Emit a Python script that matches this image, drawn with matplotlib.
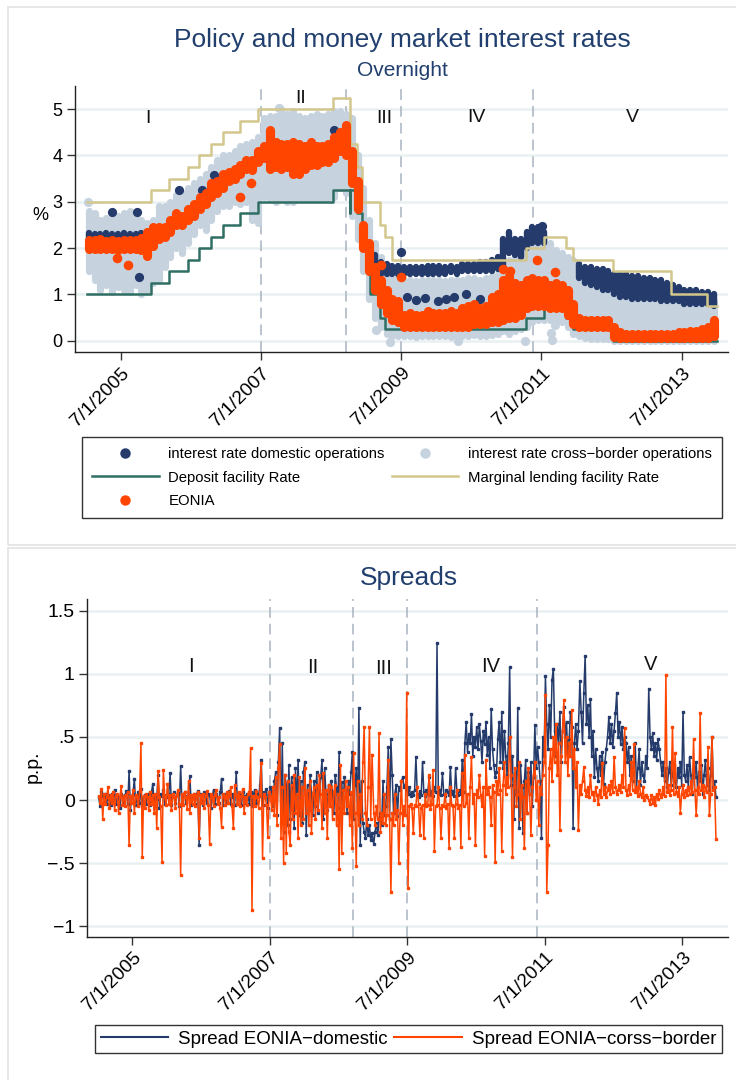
import numpy as np
import pandas as pd
import matplotlib
matplotlib.use('Agg')
import matplotlib.pyplot as plt
import matplotlib.dates as mdates
from matplotlib.lines import Line2D
from matplotlib.patches import Rectangle

plt.rcParams['font.family'] = ['Liberation Sans', 'DejaVu Sans']

NAVY = '#243b6b'
TITLE = '#213f6e'
LIGHT = '#c6d3df'
ORANGE = '#ff4500'
TEAL = '#2f6e63'
KHAKI = '#d3c78d'
GRID = '#e9f0f2'
DASH = '#a8b4c1'

# ---------------- policy rates (step series) ----------------
dep_dates = ['2005-01-03', '2005-12-06', '2006-03-08', '2006-06-15', '2006-08-09', '2006-10-11',
             '2006-12-13', '2007-03-14', '2007-06-13', '2008-07-09', '2008-10-08', '2008-10-09',
             '2008-11-12', '2008-12-10', '2009-01-21', '2009-03-11', '2009-04-08', '2011-04-13',
             '2011-07-13', '2011-11-09', '2011-12-14', '2012-07-11', '2013-12-31']
dep_rate = [1.0, 1.25, 1.5, 1.75, 2.0, 2.25, 2.5, 2.75, 3.0, 3.25, 2.75, 3.25,
            2.75, 2.0, 1.0, 0.5, 0.25, 0.5, 0.75, 0.5, 0.25, 0.0, 0.0]
mlf_dates = ['2005-01-03', '2005-12-06', '2006-03-08', '2006-06-15', '2006-08-09', '2006-10-11',
             '2006-12-13', '2007-03-14', '2007-06-13', '2008-07-09', '2008-10-08', '2008-10-09',
             '2008-11-12', '2008-12-10', '2009-03-11', '2009-04-08', '2009-05-13', '2011-04-13',
             '2011-07-13', '2011-11-09', '2011-12-14', '2012-07-11', '2013-05-08', '2013-11-13',
             '2013-12-31']
mlf_rate = [3.0, 3.25, 3.5, 3.75, 4.0, 4.25, 4.5, 4.75, 5.0, 5.25, 4.75, 4.25,
            3.75, 3.0, 2.5, 2.25, 1.75, 2.0, 2.25, 2.0, 1.75, 1.5, 1.0, 0.75, 0.75]

# ---------------- monthly ranges of the overnight rate clouds (Jan 2005 - Dec 2013) ----------------
eonia_low = [1.97, 1.98, 1.97, 1.98, 1.97, 1.96, 1.98, 1.97, 1.97, 1.95, 1.82, 2.05,
             2.2, 2.25, 2.35, 2.5, 2.5, 2.6, 2.7, 2.85, 2.95, 3.1, 3.2, 3.3,
             3.45, 3.5, 3.6, 3.7, 3.68, 3.85, 3.95, 3.7, 3.75, 3.7, 3.75, 3.6,
             3.6, 3.7, 3.8, 3.8, 3.85, 3.85, 3.95, 4.1, 4.0, 3.4, 2.85, 2.0,
             1.5, 1.1, 0.8, 0.6, 0.45, 0.4, 0.3, 0.3, 0.3, 0.3, 0.3, 0.3,
             0.3, 0.3, 0.3, 0.3, 0.3, 0.3, 0.35, 0.35, 0.35, 0.4, 0.4, 0.45,
             0.5, 0.5, 0.55, 0.7, 0.75, 0.75, 0.75, 0.7, 0.7, 0.7, 0.55, 0.35,
             0.3, 0.3, 0.3, 0.3, 0.3, 0.3, 0.08, 0.05, 0.05, 0.05, 0.05, 0.05,
             0.05, 0.05, 0.05, 0.05, 0.05, 0.05, 0.05, 0.05, 0.05, 0.05, 0.06, 0.1]
eonia_high = [2.18, 2.17, 2.19, 2.16, 2.18, 2.15, 2.17, 2.18, 2.18, 2.22, 2.35, 2.45,
              2.45, 2.45, 2.6, 2.75, 2.7, 2.85, 2.95, 3.1, 3.2, 3.4, 3.45, 3.6,
              3.65, 3.7, 3.8, 3.9, 3.9, 4.1, 4.2, 4.55, 4.3, 4.25, 4.25, 4.3,
              4.25, 4.2, 4.3, 4.2, 4.2, 4.25, 4.4, 4.5, 4.65, 4.1, 3.45, 2.5,
              2.1, 1.6, 1.3, 1.1, 0.9, 0.85, 0.55, 0.6, 0.55, 0.55, 0.65, 0.6,
              0.6, 0.6, 0.65, 0.6, 0.7, 0.75, 0.8, 0.7, 0.75, 0.95, 1.0, 1.3,
              1.4, 1.25, 1.2, 1.3, 1.35, 1.3, 1.3, 1.2, 1.25, 1.2, 1.1, 0.8,
              0.5, 0.45, 0.45, 0.45, 0.45, 0.45, 0.3, 0.18, 0.15, 0.15, 0.15, 0.15,
              0.15, 0.15, 0.15, 0.15, 0.15, 0.18, 0.18, 0.2, 0.22, 0.25, 0.3, 0.45]
cross_low = [1.5, 1.3, 1.1, 1.2, 1.05, 1.15, 1.1, 1.05, 1.2, 1.0, 1.1, 1.25,
             1.3, 1.6, 1.8, 2.0, 1.9, 2.1, 2.3, 2.5, 2.4, 2.6, 2.8, 2.9,
             2.9, 3.0, 2.95, 3.0, 2.6, 2.55, 3.1, 3.05, 3.0, 3.05, 3.0, 3.0,
             3.05, 3.05, 3.05, 3.05, 3.05, 3.05, 3.1, 3.3, 3.2, 2.7, 2.2, 1.5,
             0.9, 0.5, 0.3, 0.15, 0.1, 0.1, 0.1, 0.1, 0.08, 0.1, 0.1, 0.1,
             0.1, 0.1, 0.08, 0.1, 0.1, 0.1, 0.12, 0.1, 0.1, 0.12, 0.15, 0.2,
             0.15, 0.2, 0.25, 0.3, 0.4, 0.45, 0.45, 0.45, 0.45, 0.4, 0.3, 0.15,
             0.1, 0.05, 0.03, 0.03, 0.03, 0.03, 0.0, 0.0, 0.0, 0.0, 0.0, 0.0,
             0.0, 0.0, 0.0, 0.0, 0.0, 0.0, 0.0, 0.0, 0.0, 0.0, 0.0, 0.0]
cross_high = [2.8, 2.75, 2.6, 2.65, 2.65, 2.7, 2.75, 2.8, 2.7, 2.6, 2.55, 2.6,
              2.9, 2.9, 3.0, 3.15, 3.2, 3.3, 3.4, 3.5, 3.6, 3.75, 3.9, 4.0,
              4.0, 4.1, 4.2, 4.25, 4.3, 4.4, 4.8, 4.85, 4.85, 5.0, 4.9, 4.95,
              4.85, 4.8, 4.85, 4.9, 4.85, 4.9, 4.95, 4.95, 4.9, 4.8, 4.0, 3.3,
              2.6, 2.1, 1.8, 1.6, 1.4, 1.35, 1.3, 1.3, 1.28, 1.3, 1.3, 1.32,
              1.3, 1.28, 1.3, 1.32, 1.3, 1.35, 1.35, 1.3, 1.35, 1.4, 1.45, 1.6,
              1.75, 1.8, 1.75, 2.0, 2.15, 2.25, 2.25, 2.1, 1.95, 1.9, 1.8, 1.75,
              1.6, 1.45, 1.35, 1.3, 1.3, 1.3, 1.25, 1.2, 1.15, 1.15, 1.2, 1.2,
              1.15, 1.1, 1.05, 1.0, 0.95, 0.95, 0.95, 0.9, 0.9, 0.9, 0.95, 0.85]
dom_low = [2.12, 2.12, 2.12, 2.12, 2.12, 2.12, 2.12, 2.12, 2.12, 2.12, 2.12, 2.25,
           2.25, 2.3, 2.4, 2.55, 2.55, 2.65, 2.75, 2.9, 3.0, 3.15, 3.25, 3.35,
           3.5, 3.55, 3.65, 3.75, 3.73, 3.9, 4.0, 3.8, 3.8, 3.8, 3.8, 3.7,
           3.7, 3.75, 3.85, 3.85, 3.9, 3.9, 4.0, 4.15, 4.05, 3.5, 2.9, 2.05,
           1.55, 1.45, 1.45, 1.45, 1.45, 1.45, 1.45, 1.45, 1.45, 1.45, 1.45, 1.45,
           1.45, 1.45, 1.48, 1.45, 1.5, 1.5, 1.5, 1.5, 1.5, 1.5, 1.55, 1.6,
           1.9, 1.85, 1.8, 2.0, 2.1, 2.1, 2.1, 0.8, 0.8, 0.8, 0.65, 0.45,
           1.35, 1.25, 1.2, 1.15, 1.1, 1.1, 1.0, 0.95, 0.95, 0.9, 0.9, 0.9,
           0.9, 0.9, 0.85, 0.85, 0.85, 0.85, 0.8, 0.8, 0.8, 0.8, 0.8, 0.75]
dom_high = [2.32, 2.3, 2.3, 2.32, 2.3, 2.3, 2.33, 2.3, 2.3, 2.32, 2.35, 2.45,
            2.4, 2.4, 2.55, 2.7, 2.65, 2.8, 2.9, 3.05, 3.15, 3.35, 3.4, 3.55,
            3.6, 3.65, 3.75, 3.85, 3.85, 4.05, 4.15, 4.45, 4.25, 4.2, 4.2, 4.25,
            4.2, 4.15, 4.25, 4.15, 4.15, 4.2, 4.35, 4.45, 4.6, 4.05, 3.4, 2.45,
            2.05, 1.85, 1.7, 1.65, 1.62, 1.62, 1.6, 1.6, 1.6, 1.6, 1.62, 1.62,
            1.62, 1.6, 1.62, 1.6, 1.65, 1.65, 1.65, 1.7, 1.7, 1.75, 1.8, 2.2,
            2.35, 2.2, 2.2, 2.35, 2.45, 2.45, 2.35, 1.1, 1.1, 1.1, 1.0, 0.7,
            1.65, 1.6, 1.6, 1.55, 1.55, 1.5, 1.45, 1.45, 1.45, 1.4, 1.4, 1.35,
            1.35, 1.3, 1.3, 1.25, 1.2, 1.15, 1.1, 1.1, 1.1, 1.05, 1.05, 1.0]

# isolated observations outside the dense bands
eonia_out_dates = ['2005-06-10', '2005-08-08', '2007-03-15', '2007-05-12', '2009-03-15',
                   '2009-07-01', '2011-06-10', '2011-09-10', '2011-01-20', '2010-12-15']
eonia_out_vals = [1.78, 1.63, 3.1, 3.4, 1.63, 1.38, 1.74, 1.48, 1.5, 1.55]
dom_out_dates = ['2005-05-15', '2005-09-20', '2005-10-01', '2006-05-01', '2006-08-25',
                 '2006-10-28', '2008-07-15', '2009-07-01', '2009-08-01', '2009-09-15',
                 '2009-11-01', '2010-01-10', '2010-02-20', '2010-04-01', '2010-06-01',
                 '2010-08-15', '2011-07-05']
dom_out_vals = [2.78, 2.78, 1.38, 3.25, 3.25, 3.58, 4.55, 1.92, 0.95, 0.88,
                0.92, 0.85, 0.9, 0.95, 1.0, 0.9, 2.47]
cross_out_dates = ['2005-01-10', '2007-10-01', '2009-02-20', '2009-05-01', '2010-04-25',
                   '2011-04-05', '2011-08-20', '2011-08-25', '2011-09-10']
cross_out_vals = [3.0, 5.02, 0.23, -0.02, 0.0, 0.0, 0.16, 0.01, 0.34]

# ---------------- weekly spreads (p.p.), 52 weeks per year ----------------
dom_sp_2005 = [0.02, -0.05, 0.06, 0.03, -0.02, 0.05, -0.03, 0.04, 0.01, -0.04,
               0.05, 0.0, 0.08, -0.03, 0.04, 0.02, -0.06, 0.05, 0.03, -0.02,
               0.04, 0.07, -0.03, 0.23, -0.08, 0.03, 0.05, 0.17, -0.04, 0.02,
               0.06, -0.02, 0.09, -0.05, 0.03, 0.04, -0.03, 0.05, 0.02, -0.04,
               0.06, 0.13, -0.02, 0.04, 0.01, 0.2, -0.06, 0.05, 0.03, 0.08,
               -0.03, 0.04]
dom_sp_2006 = [0.02, 0.05, 0.21, -0.04, 0.03, 0.06, -0.02, 0.04, 0.05, -0.05,
               0.27, -0.03, 0.04, 0.06, -0.02, 0.03, 0.05, 0.19, -0.04, 0.02,
               0.05, -0.03, 0.04, 0.07, -0.36, 0.05, 0.02, -0.04, 0.06, 0.03,
               -0.02, 0.05, 0.04, -0.06, 0.03, 0.08, -0.03, 0.05, 0.02, -0.02,
               0.06, 0.17, -0.04, 0.03, 0.05, -0.02, 0.04, 0.07, -0.03, 0.05,
               0.02, -0.04]
dom_sp_2007 = [0.22, -0.03, 0.05, 0.02, -0.04, 0.06, 0.03, -0.02, 0.05, 0.04,
               -0.03, 0.06, -0.05, 0.04, 0.08, -0.02, 0.05, 0.03, 0.12, 0.32,
               -0.04, 0.06, 0.02, 0.09, -0.06, 0.05, 0.1, 0.07, -0.05, 0.15,
               0.22, -0.12, 0.3, 0.57, -0.18, 0.45, -0.25, 0.2, 0.12, -0.2,
               0.28, -0.15, 0.18, 0.1, -0.22, 0.25, -0.05, 0.32, -0.12, 0.15,
               -0.18, 0.22]
dom_sp_2008 = [0.3, -0.28, 0.12, -0.08, 0.2, 0.05, -0.12, 0.15, -0.05, 0.22,
               -0.1, 0.08, 0.18, 0.32, -0.15, 0.25, 0.05, -0.08, 0.12, -0.05,
               0.15, 0.06, -0.1, 0.2, 0.1, -0.06, 0.38, -0.12, 0.14, -0.05,
               0.18, 0.08, -0.1, 0.15, 0.05, 0.22, 0.38, -0.15, 0.12, 0.25,
               -0.1, 0.73, -0.36, 0.15, -0.18, -0.25, -0.3, -0.15, -0.28, -0.2,
               -0.32, -0.26]
dom_sp_2009 = [-0.35, -0.25, -0.18, -0.28, -0.15, -0.1, -0.2, 0.15, -0.12, -0.05,
               0.1, 0.42, -0.15, 0.48, 0.2, -0.1, 0.05, 0.12, -0.13, 0.1,
               0.08, 0.15, 0.18, 0.1, 0.12, 0.08, 0.05, 0.1, 0.03, 0.06,
               0.04, 0.08, 0.34, 0.05, 0.02, 0.07, 0.04, 0.3, 0.06, 0.03,
               0.08, 0.05, 0.18, 0.04, 0.07, 0.03, 0.1, 0.06, 1.24, 0.05,
               0.08, 0.04]
dom_sp_2010 = [0.21, 0.05, 0.03, 0.08, 0.06, 0.04, 0.26, 0.05, 0.07, 0.03,
               0.25, 0.06, 0.04, 0.08, 0.05, 0.32, 0.06, 0.45, 0.62, 0.38,
               0.52, 0.45, 0.68, 0.35, 0.5, 0.42, 0.58, 0.4, 0.6, 0.47,
               0.3, 0.55, 0.44, 0.62, 0.36, 0.5, 0.25, 0.72, 0.4, 0.28,
               0.18, 0.22, 0.48, 0.62, 0.3, 0.7, 0.25, 0.55, 0.35, 0.2,
               0.45, 1.05]
dom_sp_2011 = [0.12, 0.35, -0.15, 0.2, 0.05, 0.73, -0.22, 0.28, 0.1, -0.26,
               0.15, 0.32, -0.1, 0.22, 0.05, 0.3, -0.05, 0.18, 0.59, 0.25,
               0.42, 0.3, 0.15, -0.3, 0.5, 0.35, 0.98, 0.6, 0.4, 0.75,
               0.5, 0.95, 1.04, 0.55, 0.35, 0.6, 0.45, 0.7, 0.3, 0.55,
               0.74, 0.5, 0.62, 0.35, 0.48, 0.7, 0.58, -0.22, 0.45, 0.6,
               0.4, 0.55]
dom_sp_2012 = [0.94, 0.7, 0.45, 0.85, 1.14, 0.6, 0.75, 0.5, 0.8, 0.35,
               0.55, 0.18, 0.4, 0.25, 0.15, 0.35, 0.2, 0.38, 0.13, 0.3,
               0.4, 0.5, 0.66, 0.45, 0.6, 0.42, 0.55, 0.69, 0.85, 0.5,
               0.62, 0.44, 0.58, 0.4, 0.5, 0.45, 0.3, 0.42, 0.2, 0.35,
               0.15, 0.3, 0.45, 0.1, 0.25, 0.4, 0.12, 0.3, 0.2, 0.15,
               0.35, 0.25]
dom_sp_2013 = [0.88, 0.5, 0.4, 0.53, 0.35, 0.45, 0.32, 0.48, 0.4, 0.3,
               0.2, 0.3, 0.15, 0.25, 0.1, 0.22, 0.3, 0.12, 0.2, 0.28,
               0.15, 0.1, 0.25, 0.18, 0.3, 0.12, 0.7, 0.2, 0.15, 0.28,
               0.1, 0.34, 0.2, 0.05, 0.25, 0.18, 0.3, 0.1, 0.22, 0.15,
               0.28, 0.05, 0.2, 0.32, 0.12, 0.25, 0.08, 0.2, 0.5, 0.1,
               0.15, 0.02]

cb_sp_2005 = [0.03, -0.02, 0.09, -0.15, 0.05, -0.03, 0.02, 0.1, -0.06, 0.04,
              -0.02, 0.06, -0.08, 0.03, 0.05, -0.1, 0.02, 0.11, -0.04, 0.03,
              -0.05, 0.04, 0.06, -0.36, 0.03, -0.02, 0.08, -0.1, 0.04, 0.02,
              -0.05, 0.07, 0.45, -0.45, 0.03, -0.06, 0.05, 0.02, -0.08, 0.06,
              -0.03, 0.04, -0.1, 0.05, -0.22, 0.23, 0.02, -0.05, -0.49, 0.24,
              0.03, -0.04]
cb_sp_2006 = [0.13, -0.03, 0.04, -0.08, 0.05, 0.02, -0.06, 0.04, 0.08, -0.03,
              -0.59, 0.05, -0.04, 0.06, 0.02, -0.07, 0.15, -0.1, 0.04, -0.03,
              0.05, -0.05, 0.03, 0.06, -0.3, 0.04, -0.02, 0.05, -0.06, 0.03,
              0.07, -0.04, -0.35, 0.05, 0.02, -0.05, 0.04, 0.08, -0.03, 0.02,
              -0.06, -0.21, 0.05, 0.03, -0.04, 0.06, -0.02, 0.04, 0.1, -0.05,
              -0.22, 0.12]
cb_sp_2007 = [0.04, -0.03, 0.06, -0.05, 0.03, 0.09, -0.1, 0.02, -0.04, 0.05,
              0.06, 0.41, -0.87, 0.03, -0.05, 0.07, 0.02, -0.06, 0.04, 0.29,
              -0.46, 0.05, 0.02, -0.04, -0.29, 0.06, 0.03, -0.08, 0.1, -0.12,
              0.18, -0.2, 0.25, 0.44, -0.3, 0.1, -0.5, 0.2, -0.42, 0.15,
              -0.25, -0.36, 0.12, -0.15, 0.2, -0.1, 0.05, -0.3, 0.18, -0.2,
              0.1, -0.15]
cb_sp_2008 = [0.25, -0.1, 0.08, -0.2, 0.15, -0.26, 0.05, 0.1, -0.15, 0.12,
              -0.08, 0.2, 0.05, -0.22, 0.21, -0.1, 0.08, -0.3, 0.12, -0.05,
              0.1, -0.15, 0.06, 0.12, -0.2, 0.05, -0.55, 0.28, -0.42, 0.08,
              -0.1, 0.15, -0.05, 0.1, -0.2, 0.06, -0.38, 0.37, -0.1, -0.52,
              0.15, -0.2, 0.05, -0.15, 0.3, 0.58, -0.1, -0.2, 0.1, 0.58,
              -0.15, 0.36]
cb_sp_2009 = [-0.1, -0.2, -0.05, -0.15, 0.53, -0.25, -0.1, -0.18, 0.05, -0.2,
              -0.12, 0.32, -0.15, -0.73, -0.1, -0.2, 0.05, -0.15, -0.08, -0.5,
              -0.1, 0.15, -0.2, -0.05, -0.12, 0.85, -0.7, -0.05, -0.03, -0.06,
              -0.26, -0.04, -0.05, 0.1, -0.03, -0.28, -0.06, -0.04, -0.3, 0.05,
              -0.05, -0.04, 0.2, -0.07, -0.03, 0.24, -0.4, -0.05, -0.04, 0.1,
              -0.06, -0.3]
cb_sp_2010 = [-0.04, -0.05, 0.05, -0.06, -0.03, -0.38, 0.1, -0.04, -0.05, -0.3,
              -0.03, 0.08, -0.06, -0.04, -0.37, 0.21, -0.05, 0.36, -0.02, 0.05,
              -0.3, 0.1, 0.34, -0.02, 0.05, -0.36, 0.08, 0.02, 0.2, 0.04,
              -0.05, 0.1, -0.44, 0.32, 0.05, 0.1, 0.02, -0.2, 0.12, 0.06,
              -0.49, 0.15, 0.05, 0.25, 0.08, -0.4, 0.12, 0.3, 0.05, 0.18,
              0.1, 0.5]
cb_sp_2011 = [0.2, -0.45, 0.1, 0.25, -0.05, 0.05, 0.3, -0.15, 0.12, 0.02,
              -0.38, 0.15, -0.1, 0.25, 0.05, -0.28, 0.1, 0.2, 0.3, 0.0,
              0.15, -0.2, 0.1, 0.05, 0.2, 0.3, 0.83, -0.73, -0.36, 0.25,
              0.4, 0.15, 0.5, 0.3, 0.6, 0.2, 0.45, -0.24, 0.35, 0.55,
              0.79, 0.3, 0.5, 0.2, 0.45, 0.35, 0.71, 0.25, 0.4, 0.1,
              0.3, -0.24]
cb_sp_2012 = [0.12, 0.05, 0.15, 0.26, 0.08, 0.03, 0.1, 0.02, 0.2, 0.05,
              0.06, 0.0, 0.1, 0.04, -0.03, 0.08, 0.02, 0.29, 0.05, 0.1,
              0.02, 0.08, 0.12, 0.05, 0.15, 0.06, 0.34, 0.1, 0.05, 0.08,
              0.12, 0.06, 0.2, 0.1, 0.57, 0.08, 0.04, 0.12, 0.05, 0.3,
              0.08, 0.44, 0.06, 0.1, 0.03, 0.15, 0.05, 0.02, 0.1, 0.0,
              0.04, 0.02]
cb_sp_2013 = [0.0, -0.03, 0.04, -0.02, 0.02, -0.04, 0.05, 0.01, 0.08, 0.02,
              0.05, 0.1, 0.03, 0.99, 0.06, 0.12, 0.04, 0.08, 0.58, 0.05,
              0.37, 0.06, 0.03, 0.1, -0.1, 0.05, 0.12, 0.02, 0.08, 0.04,
              0.1, 0.05, 0.15, 0.06, 0.48, 0.08, -0.12, 0.1, 0.05, 0.69,
              0.08, 0.12, 0.02, 0.1, 0.06, 0.42, -0.12, 0.05, 0.5, 0.08,
              0.1, -0.31]

years = [2005, 2006, 2007, 2008, 2009, 2010, 2011, 2012, 2013]
dom_spread = dom_sp_2005 + dom_sp_2006 + dom_sp_2007 + dom_sp_2008 + dom_sp_2009 + \
    dom_sp_2010 + dom_sp_2011 + dom_sp_2012 + dom_sp_2013
cb_spread = cb_sp_2005 + cb_sp_2006 + cb_sp_2007 + cb_sp_2008 + cb_sp_2009 + \
    cb_sp_2010 + cb_sp_2011 + cb_sp_2012 + cb_sp_2013

# ---------------- labels ----------------
period_names = ['I', 'II', 'III', 'IV', 'V']
top_label_dates = ['2005-11-20', '2008-01-22', '2009-04-05', '2010-07-30', '2012-10-20']
top_label_y = [4.8, 5.24, 4.8, 4.83, 4.83]
bot_label_dates = ['2006-05-08', '2008-02-14', '2009-02-24', '2010-09-16', '2013-01-12']
bot_label_y = [1.06, 1.05, 1.04, 1.06, 1.07]
break_dates = ['2007-07-01', '2008-09-15', '2009-07-01', '2011-05-18']
xtick_dates = ['2005-07-01', '2007-07-01', '2009-07-01', '2011-07-01', '2013-07-01']
xtick_labels = ['7/1/2005', '7/1/2007', '7/1/2009', '7/1/2011', '7/1/2013']

# ---------------- helpers ----------------
D = lambda s: mdates.date2num(pd.to_datetime(s))
months = D(pd.date_range('2005-01-01', '2013-12-01', freq='MS') + pd.Timedelta(days=14))
weeks = np.concatenate([D(pd.Timestamp(f'{y}-01-03') + pd.to_timedelta(np.arange(52) * 7, unit='D'))
                        for y in years])
xlim = (D('2004-11-03'), D('2014-02-28'))

W, H = 736, 1080
fig = plt.figure(figsize=(W / 100, H / 100), dpi=100)
fig.patch.set_facecolor('white')
for (x0, y0, x1, y1) in [(8, 7, 745, 545), (8, 548, 745, 1090)]:
    fig.patches.append(Rectangle((x0 / W, 1 - y1 / H), (x1 - x0) / W, (y1 - y0) / H,
                                 transform=fig.transFigure, fill=False,
                                 edgecolor='#e3e3e3', linewidth=1.2))


def style_axes(ax, yt, ytl, ytfs, xtfs):
    for s in ['top', 'right']:
        ax.spines[s].set_visible(False)
    for s in ['left', 'bottom']:
        ax.spines[s].set_color('#222222')
        ax.spines[s].set_linewidth(1.0)
    ax.set_xlim(*xlim)
    ax.set_yticks(yt)
    ax.set_yticklabels(ytl, fontsize=ytfs)
    ax.set_xticks(D(xtick_dates))
    ax.set_xticklabels(xtick_labels, fontsize=xtfs, rotation=45, ha='right', va='top',
                       rotation_mode='anchor')
    ax.tick_params(axis='both', direction='out', length=6, width=1.0, color='#333333', pad=3)
    ax.yaxis.grid(True, color=GRID, linewidth=1.8)
    ax.set_axisbelow(True)
    for d in break_dates:
        ax.axvline(D(d), color=DASH, linewidth=1.1, dashes=(7, 4), zorder=1)


# ================= TOP PANEL =================
ax1 = fig.add_axes([75 / W, 1 - 352 / H, 653 / W, 266 / H])
style_axes(ax1, [0, 1, 2, 3, 4, 5], ['0', '1', '2', '3', '4', '5'], 13, 13.8)
ax1.set_ylim(-0.244, 5.5)

lc = ax1.vlines(months, cross_low, cross_high, colors=LIGHT, linewidth=5.2, zorder=2)
lc.set_capstyle('round')
ax1.scatter(D(cross_out_dates), cross_out_vals, s=44, color=LIGHT, zorder=2, linewidths=0)
lc = ax1.vlines(months, dom_low, dom_high, colors=NAVY, linewidth=4.6, zorder=3)
lc.set_capstyle('round')
ax1.scatter(D(dom_out_dates), dom_out_vals, s=44, color=NAVY, zorder=3, linewidths=0)
ax1.step(D(dep_dates), dep_rate, where='post', color=TEAL, linewidth=1.8, zorder=4)
ax1.step(D(mlf_dates), mlf_rate, where='post', color=KHAKI, linewidth=1.8, zorder=4)
lc = ax1.vlines(months, eonia_low, eonia_high, colors=ORANGE, linewidth=6.6, zorder=5)
lc.set_capstyle('round')
ax1.scatter(D(eonia_out_dates), eonia_out_vals, s=48, color=ORANGE, zorder=5, linewidths=0)

for name, d, y in zip(period_names, top_label_dates, top_label_y):
    ax1.text(D(d), y, name, fontsize=14, ha='center', va='center', color='#111111', zorder=6)
ax1.set_ylabel('%', rotation=0, fontsize=13, va='center', ha='center')
ax1.yaxis.set_label_coords(-35 / 653, (352 - 215) / 266)

fig.text(402 / W, 1 - 40 / H, 'Policy and money market interest rates', fontsize=19,
         color=TITLE, ha='center', va='center')
fig.text(402 / W, 1 - 70 / H, 'Overnight', fontsize=15, color=TITLE, ha='center', va='center')

h_dom = Line2D([], [], ls='none', marker='o', ms=6.5, mfc=NAVY, mec=NAVY)
h_cb = Line2D([], [], ls='none', marker='o', ms=6.5, mfc=LIGHT, mec=LIGHT)
h_dep = Line2D([], [], color=TEAL, linewidth=1.8)
h_mlf = Line2D([], [], color=KHAKI, linewidth=1.8)
h_eon = Line2D([], [], ls='none', marker='o', ms=6.5, mfc=ORANGE, mec=ORANGE)
leg1 = fig.legend([h_dom, h_dep, h_eon, h_cb, h_mlf],
                  ['interest rate domestic operations', 'Deposit facility Rate', 'EONIA',
                   'interest rate cross\u2212border operations', 'Marginal lending facility Rate'],
                  ncol=2, loc='upper left', bbox_to_anchor=(82 / W, 1 - 437 / H, 640 / W, 0),
                  mode='expand', fontsize=10.7, frameon=True, fancybox=False, edgecolor='black',
                  handlelength=4.45, handletextpad=0.67, labelspacing=0.62, borderpad=0.7,
                  borderaxespad=0, columnspacing=0.5)
leg1.get_frame().set_linewidth(1.0)

# ================= BOTTOM PANEL =================
ax2 = fig.add_axes([87.3 / W, 1 - 936.7 / H, 640.7 / W, 337.4 / H])
style_axes(ax2, [-1, -0.5, 0, 0.5, 1, 1.5], ['\u22121', '\u2212.5', '0', '.5', '1', '1.5'], 14, 13.8)
ax2.set_ylim(-1.082, 1.589)
ax2.plot(weeks, dom_spread, color=NAVY, linewidth=1.1, marker='s', markersize=1.6, zorder=3)
ax2.plot(weeks, cb_spread, color=ORANGE, linewidth=1.1, marker='s', markersize=1.6, zorder=4)
for name, d, y in zip(period_names, bot_label_dates, bot_label_y):
    ax2.text(D(d), y, name, fontsize=14.5, ha='center', va='center', color='#111111', zorder=6)
ax2.set_ylabel('p.p.', fontsize=14)
ax2.yaxis.set_label_coords(-46 / 640.7, (936.7 - 767) / 337.4)

fig.text(409 / W, 1 - 578 / H, 'Spreads', fontsize=19, color=TITLE, ha='center', va='center')

h_l1 = Line2D([], [], color=NAVY, linewidth=1.5)
h_l2 = Line2D([], [], color=ORANGE, linewidth=1.5)
leg2 = fig.legend([h_l1, h_l2], ['Spread EONIA\u2212domestic', 'Spread EONIA\u2212corss\u2212border'],
                  ncol=2, loc='upper left', bbox_to_anchor=(95 / W, 1 - 1025 / H, 627 / W, 0),
                  mode='expand', fontsize=13.5, frameon=True, fancybox=False, edgecolor='black',
                  handlelength=3.6, handletextpad=0.55, borderpad=0.3, borderaxespad=0,
                  columnspacing=0.5)
leg2.get_frame().set_linewidth(1.0)

fig.savefig('out.png', dpi=100, facecolor='white')
